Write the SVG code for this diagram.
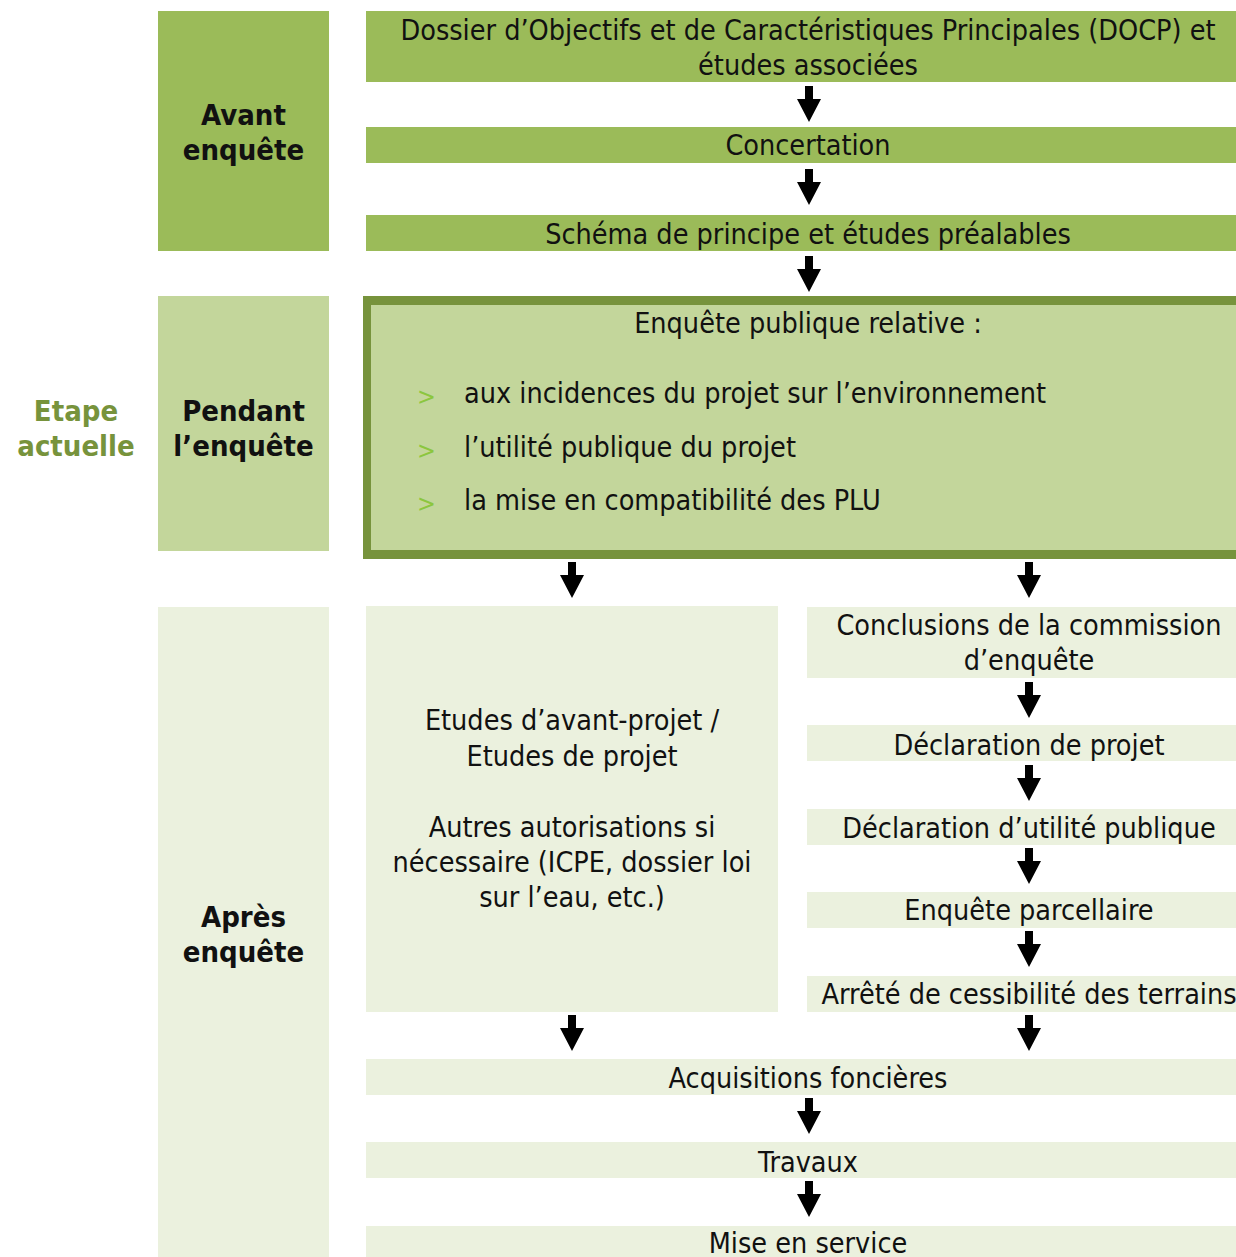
<svg xmlns="http://www.w3.org/2000/svg" xmlns:xlink="http://www.w3.org/1999/xlink" width="1236" height="1257" viewBox="0 0 1236 1257">
<style>
text{font-family:"DejaVu Sans Condensed","DejaVu Sans",sans-serif;font-stretch:condensed;font-size:28.5px;fill:#111;text-anchor:middle}
.b{font-weight:bold;font-size:29px}
.g{fill:#77933C}
.l{text-anchor:start}
.bul{fill:#8CC63F;text-anchor:start;font-size:25px}
.dk{fill:#9BBB59}
.md{fill:#C3D69B}
.lt{fill:#EBF1DE}
</style>
<defs>
<path id="arr" d="M-4,0 H4 V13 H12 L0,36 L-12,13 H-4 Z" fill="#000"/>
</defs>
<rect width="1236" height="1257" fill="#fff"/>
<g id="phase-avant">
<rect class="dk" x="158" y="11" width="171" height="240"/>
<text class="b" x="243.5" y="125">Avant</text>
<text class="b" x="243.5" y="160">enquête</text>
</g>
<g id="phase-pendant">
<rect class="md" x="158" y="296" width="171" height="255"/>
<text class="b" x="243.5" y="421">Pendant</text>
<text class="b" x="243.5" y="456">l’enquête</text>
</g>
<g id="phase-apres">
<rect class="lt" x="158" y="607" width="171" height="650"/>
<text class="b" x="243.5" y="927">Après</text>
<text class="b" x="243.5" y="962">enquête</text>
</g>
<g id="etape-actuelle">
<text class="b g" x="76" y="421">Etape</text>
<text class="b g" x="76" y="456">actuelle</text>
</g>
<g id="docp">
<rect class="dk" x="366" y="11" width="870" height="71"/>
<text x="808" y="40">Dossier d’Objectifs et de Caractéristiques Principales (DOCP) et</text>
<text x="808" y="75">études associées</text>
</g>
<g id="concertation">
<rect class="dk" x="366" y="127" width="870" height="36"/>
<text x="808" y="155">Concertation</text>
</g>
<g id="schema">
<rect class="dk" x="366" y="215" width="870" height="36"/>
<text x="808" y="244">Schéma de principe et études préalables</text>
</g>
<g id="enquete-publique">
<rect x="363" y="296" width="873" height="263" fill="#77933C"/>
<rect class="md" x="371" y="305" width="865" height="245"/>
<text x="808" y="333">Enquête publique relative :</text>
<text class="bul" x="417" y="405">&gt;</text>
<text class="l" x="464" y="403">aux incidences du projet sur l’environnement</text>
<text class="bul" x="417" y="459">&gt;</text>
<text class="l" x="464" y="457">l’utilité publique du projet</text>
<text class="bul" x="417" y="512">&gt;</text>
<text class="l" x="464" y="510">la mise en compatibilité des PLU</text>
</g>
<g id="etudes">
<rect class="lt" x="366" y="606" width="412" height="406"/>
<text x="572" y="730">Etudes d’avant-projet /</text>
<text x="572" y="766">Etudes de projet</text>
<text x="572" y="837">Autres autorisations si</text>
<text x="572" y="872">nécessaire (ICPE, dossier loi</text>
<text x="572" y="907">sur l’eau, etc.)</text>
</g>
<g id="conclusions">
<rect class="lt" x="807" y="607" width="429" height="71"/>
<text x="1029" y="635">Conclusions de la commission</text>
<text x="1029" y="670">d’enquête</text>
</g>
<g id="declaration-projet">
<rect class="lt" x="807" y="725" width="429" height="36"/>
<text x="1029" y="755">Déclaration de projet</text>
</g>
<g id="dup">
<rect class="lt" x="807" y="809" width="429" height="36"/>
<text x="1029" y="838">Déclaration d’utilité publique</text>
</g>
<g id="enquete-parcellaire">
<rect class="lt" x="807" y="892" width="429" height="36"/>
<text x="1029" y="920">Enquête parcellaire</text>
</g>
<g id="arrete">
<rect class="lt" x="807" y="976" width="429" height="36"/>
<text x="1029" y="1004">Arrêté de cessibilité des terrains</text>
</g>
<g id="acquisitions">
<rect class="lt" x="366" y="1059" width="870" height="36"/>
<text x="808" y="1088">Acquisitions foncières</text>
</g>
<g id="travaux">
<rect class="lt" x="366" y="1142" width="870" height="36"/>
<text x="808" y="1172">Travaux</text>
</g>
<g id="mise-en-service">
<rect class="lt" x="366" y="1226" width="870" height="31"/>
<text x="808" y="1253">Mise en service</text>
</g>
<g id="connectors">
<use xlink:href="#arr" x="809" y="86"/>
<use xlink:href="#arr" x="809" y="169"/>
<use xlink:href="#arr" x="809" y="256"/>
<use xlink:href="#arr" x="572" y="562"/>
<use xlink:href="#arr" x="1029" y="562"/>
<use xlink:href="#arr" x="1029" y="682"/>
<use xlink:href="#arr" x="1029" y="765"/>
<use xlink:href="#arr" x="1029" y="848"/>
<use xlink:href="#arr" x="1029" y="931"/>
<use xlink:href="#arr" x="572" y="1015"/>
<use xlink:href="#arr" x="1029" y="1015"/>
<use xlink:href="#arr" x="809" y="1098"/>
<use xlink:href="#arr" x="809" y="1181"/>
</g>
</svg>
